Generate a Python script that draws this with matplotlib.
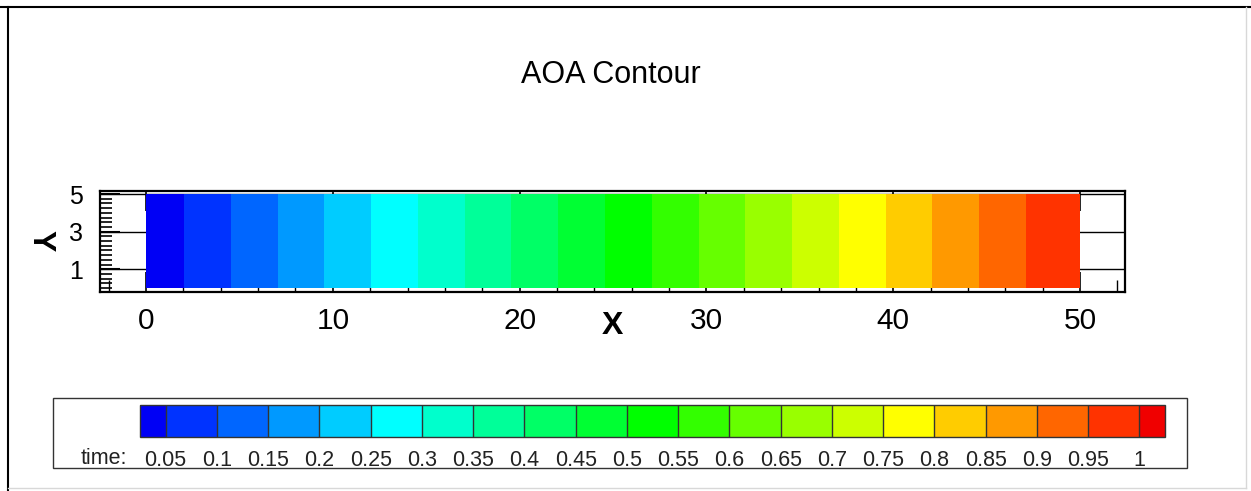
import matplotlib
matplotlib.use("Agg")
import matplotlib.pyplot as plt
from matplotlib.colors import ListedColormap, BoundaryNorm
from matplotlib.patches import Rectangle
from matplotlib.lines import Line2D
from matplotlib.ticker import MultipleLocator
import numpy as np

plt.rcParams["font.family"] = ["Liberation Sans", "DejaVu Sans"]

# field values (time along x, constant in y)
x_nodes = [0.0, 2.04, 47.1, 50.0]
y_nodes = [0.0, 5.0]
time_nodes = [[0.01, 0.05, 0.95, 0.999],
              [0.01, 0.05, 0.95, 0.999]]

levels = [0.05, 0.1, 0.15, 0.2, 0.25, 0.3, 0.35, 0.4, 0.45, 0.5,
          0.55, 0.6, 0.65, 0.7, 0.75, 0.8, 0.85, 0.9, 0.95, 1.0]
level_labels = ["0.05", "0.1", "0.15", "0.2", "0.25", "0.3", "0.35", "0.4", "0.45", "0.5",
                "0.55", "0.6", "0.65", "0.7", "0.75", "0.8", "0.85", "0.9", "0.95", "1"]
band_colors = ["#0000f5", "#0033ff", "#0066ff", "#0099ff", "#00ccff", "#00ffff",
               "#00ffcc", "#00ff99", "#00ff66", "#00ff33", "#00ff00", "#33ff00",
               "#66ff00", "#99ff00", "#ccff00", "#ffff00", "#ffcc00", "#ff9900",
               "#ff6600", "#ff3300", "#f00000"]

x_ticks = [0, 10, 20, 30, 40, 50]
y_ticks = [1, 3, 5]

W, H = 1251, 491


def fy(py):
    return 1 - py / H


fig = plt.figure(figsize=(W / 100, H / 100), dpi=100)

# frame of the window
fig.add_artist(Line2D([0, 1], [fy(7), fy(7)], color="black", lw=1.5, transform=fig.transFigure))
fig.add_artist(Line2D([8 / W, 8 / W], [fy(7), 0], color="black", lw=1.5, transform=fig.transFigure))
fig.add_artist(Line2D([1246 / W, 1246 / W], [fy(7), fy(488)], color="#d8d8d8", lw=1, transform=fig.transFigure))
fig.add_artist(Line2D([8 / W, 1246 / W], [fy(488), fy(488)], color="#d8d8d8", lw=1, transform=fig.transFigure))

fig.text(611 / W, fy(75), "AOA Contour", ha="center", va="center", fontsize=22)

# main plot
ax = fig.add_axes([99.5 / W, fy(292), 1025 / W, 101.5 / H])
cmap = ListedColormap(band_colors[1:-1])
cmap.set_under(band_colors[0])
cmap.set_over(band_colors[-1])
norm = BoundaryNorm(levels, cmap.N)

X, Y = np.meshgrid(x_nodes, y_nodes)
cs = ax.contourf(X, Y, np.array(time_nodes), levels=levels, cmap=cmap, norm=norm,
                 extend="both", antialiased=False)

ax.set_xlim(-2.49, 52.38)
ax.set_ylim(-0.21, 5.19)
ax.set_axisbelow(True)
ax.set_xticks(x_ticks)
ax.set_yticks(y_ticks)
ax.xaxis.set_minor_locator(MultipleLocator(2))
ax.yaxis.set_minor_locator(MultipleLocator(0.25))
ax.grid(axis="y", which="major", color="black", lw=1)

ax.tick_params(axis="x", which="major", direction="in", length=14.4, width=1.2,
               top=True, labelsize=21.5, pad=10.5)
ax.tick_params(axis="x", which="minor", direction="in", length=8.6, width=1, top=False)
ax.tick_params(axis="y", which="major", direction="in", length=14.4, width=1.5,
               labelsize=18, pad=12)
ax.tick_params(axis="y", which="minor", direction="in", length=8.6, width=1.2)
for s in ax.spines.values():
    s.set_linewidth(1.6)

fig.text(612 / W, fy(326), "X", ha="center", va="center", fontsize=23, fontweight="bold")
fig.text(40 / W, fy(241), "Y", ha="center", va="center", fontsize=23, fontweight="bold",
         rotation=270)

# legend
fig.add_artist(Rectangle((53 / W, fy(468)), 1134 / W, 70 / H, fill=False,
                         edgecolor="#333333", lw=1, transform=fig.transFigure))
cax = fig.add_axes([140 / W, fy(437), 1025 / W, 32 / H])
cb = fig.colorbar(cs, cax=cax, orientation="horizontal", extendrect=True,
                  extendfrac=0.5 / 19, drawedges=True, ticks=levels)
cb.set_ticklabels(level_labels)
cb.outline.set_linewidth(1)
cb.outline.set_edgecolor("#333333")
cb.dividers.set_color("#333333")
cb.dividers.set_linewidth(1)
cax.tick_params(length=0, labelsize=15.5, pad=9.5, labelcolor="#222222")
fig.text(127 / W, fy(458), "time:", ha="right", va="center", fontsize=15.5, color="#222222")

fig.savefig("out.png", dpi=100)
